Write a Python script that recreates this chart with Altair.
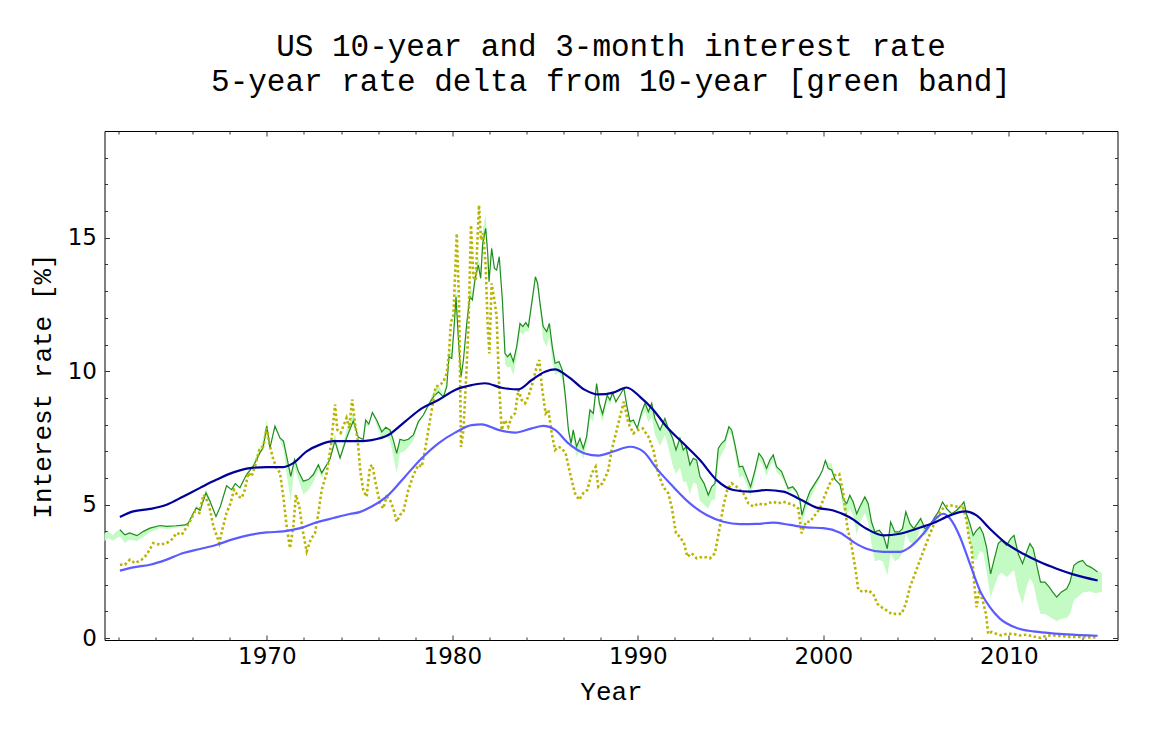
import altair as alt
import pandas as pd

# ---------------- data ----------------
# 10-year rate (green line) and 5-year minus 10-year delta (green band)
years10 = [
    1962.08, 1962.35, 1962.6, 1963.0, 1963.35, 1963.7, 1964.25, 1964.6, 1965.1, 1965.6,
    1965.77, 1966.04, 1966.2, 1966.4, 1966.72, 1966.94, 1967.26, 1967.5, 1967.83, 1968.1,
    1968.3, 1968.55, 1968.9, 1969.27, 1969.63, 1969.8, 1970.0, 1970.17, 1970.44, 1970.71,
    1970.9, 1971.07, 1971.29, 1971.5, 1971.7, 1971.97, 1972.24, 1972.5, 1972.78, 1972.96,
    1973.4, 1973.67, 1973.95, 1974.3, 1974.66, 1974.93, 1975.2, 1975.33, 1975.5, 1975.69,
    1975.92, 1976.2, 1976.41, 1976.64, 1976.82, 1977.0, 1977.18, 1977.4, 1977.63, 1977.9,
    1978.17, 1978.44, 1978.71, 1978.98, 1979.25, 1979.52, 1979.7, 1979.82, 1979.97, 1980.11,
    1980.2, 1980.33, 1980.47, 1980.6, 1980.78, 1980.95, 1981.08, 1981.22, 1981.4, 1981.53,
    1981.64, 1981.8, 1981.91, 1981.98, 1982.12, 1982.27, 1982.39, 1982.53, 1982.7, 1982.84,
    1982.98, 1983.13, 1983.29, 1983.47, 1983.65, 1983.8, 1983.96, 1984.1, 1984.28, 1984.48,
    1984.6, 1984.73, 1984.9, 1985.09, 1985.23, 1985.39, 1985.54, 1985.75, 1985.93, 1986.08,
    1986.26, 1986.4, 1986.52, 1986.7, 1986.88, 1987.06, 1987.24, 1987.42, 1987.6, 1987.78,
    1987.93, 1988.1, 1988.35, 1988.5, 1988.64, 1988.82, 1989.04, 1989.25, 1989.4, 1989.58,
    1989.76, 1989.97, 1990.21, 1990.39, 1990.57, 1990.75, 1990.92, 1991.2, 1991.46, 1991.64,
    1991.88, 1992.06, 1992.27, 1992.45, 1992.6, 1992.81, 1992.99, 1993.17, 1993.35, 1993.57,
    1993.8, 1993.98, 1994.16, 1994.34, 1994.52, 1994.7, 1994.91, 1995.06, 1995.24, 1995.47,
    1995.65, 1995.87, 1996.08, 1996.32, 1996.53, 1996.73, 1996.94, 1997.12, 1997.3, 1997.48,
    1997.75, 1997.93, 1998.11, 1998.35, 1998.56, 1998.74, 1998.85, 1999.01, 1999.28, 1999.55,
    1999.78, 1999.96, 2000.11, 2000.27, 2000.45, 2000.63, 2000.9, 2001.08, 2001.26, 2001.43,
    2001.61, 2001.8, 2001.97, 2002.24, 2002.42, 2002.6, 2002.78, 2003.02, 2003.23, 2003.45,
    2003.63, 2003.86, 2004.09, 2004.27, 2004.45, 2004.67, 2004.88, 2005.07, 2005.25, 2005.48,
    2005.75, 2005.96, 2006.2, 2006.43, 2006.65, 2006.92, 2007.19, 2007.45, 2007.58, 2007.72,
    2007.9, 2008.08, 2008.26, 2008.44, 2008.62, 2008.8, 2009.02, 2009.2, 2009.43, 2009.61,
    2009.88, 2010.1, 2010.28, 2010.51, 2010.74, 2010.96, 2011.14, 2011.32, 2011.53, 2011.71,
    2011.95, 2012.18, 2012.36, 2012.58, 2012.84, 2013.12, 2013.3, 2013.51, 2013.74, 2013.98,
    2014.19, 2014.41, 2014.55, 2014.79,
]
ten = [
    4.06, 3.87, 3.94, 3.84, 4.0, 4.12, 4.22, 4.19, 4.21, 4.24,
    4.31, 4.69, 4.88, 4.79, 5.44, 5.12, 4.56, 4.94, 5.71, 5.56,
    5.79, 5.63, 6.12, 6.44, 6.94, 7.13, 7.94, 7.13, 7.94, 7.5,
    7.38, 6.81, 6.06, 6.69, 6.25, 5.88, 5.94, 6.12, 6.5, 6.19,
    6.69, 7.38, 6.75, 7.5, 8.13, 7.52, 7.45, 8.17, 8.02, 8.45,
    8.17, 7.73, 7.9, 7.8, 7.42, 6.92, 7.45, 7.4, 7.45, 7.61,
    8.11, 8.36, 8.73, 9.04, 9.23, 9.04, 9.42, 10.54, 10.48, 11.79,
    12.79, 11.17, 9.8, 10.42, 11.79, 12.79, 12.67, 13.41, 13.98, 13.48,
    14.79, 15.35, 14.41, 13.35, 14.6, 13.85, 13.79, 14.29, 12.67, 10.67,
    10.54, 10.67, 10.36, 10.92, 11.79, 11.67, 11.82, 11.67, 12.54, 13.54,
    13.29, 12.54, 11.67, 11.48, 11.79, 10.92, 10.3, 10.36, 10.04, 9.17,
    7.8, 7.3, 7.8, 7.17, 7.48, 7.11, 7.55, 8.55, 8.42, 9.54,
    8.8, 8.4, 9.1, 8.92, 9.19, 8.86, 9.11, 9.36, 8.74, 8.11,
    8.17, 7.86, 8.48, 8.8, 8.48, 8.8, 8.23, 7.8, 8.23, 7.86,
    7.49, 7.05, 7.49, 7.05, 7.17, 6.49, 6.74, 6.67, 6.05, 5.8,
    5.36, 5.67, 5.8, 7.11, 7.3, 7.42, 7.92, 7.8, 7.24, 6.42,
    6.44, 6.05, 5.67, 6.3, 6.92, 6.74, 6.36, 6.67, 6.86, 6.42,
    6.24, 5.92, 5.61, 5.67, 5.49, 5.18, 4.61, 5.0, 5.5, 5.8,
    6.05, 6.3, 6.65, 6.35, 6.3, 5.95, 5.75, 5.2, 5.04, 5.35,
    5.1, 4.66, 4.92, 5.29, 5.04, 4.35, 3.98, 4.04, 3.85, 3.35,
    4.35, 3.98, 3.98, 4.1, 4.73, 4.29, 4.1, 4.29, 4.48, 4.1,
    4.23, 4.48, 4.73, 5.1, 4.85, 4.66, 4.79, 4.98, 5.1, 4.66,
    4.29, 3.85, 4.04, 4.16, 3.91, 3.41, 2.41, 2.91, 3.54, 3.66,
    3.48, 3.73, 3.85, 3.16, 2.79, 3.23, 3.54, 3.35, 2.66, 2.1,
    2.1, 1.91, 1.73, 1.54, 1.73, 1.85, 2.1, 2.73, 2.85, 2.91,
    2.73, 2.66, 2.6, 2.48,
]
delta5 = [
    -0.25, -0.3, -0.25, -0.2, -0.2, -0.15, -0.1, -0.1, -0.08, -0.05,
    -0.05, 0.05, 0.1, 0.05, 0.15, 0.1, -0.05, 0.0, 0.05, 0.0,
    0.05, 0.0, 0.05, 0.1, 0.2, 0.25, 0.25, 0.1, 0.1, -0.1,
    -0.3, -0.7, -0.9, -0.3, -0.3, -0.5, -0.4, -0.3, -0.2, -0.2,
    0.1, 0.3, 0.1, 0.3, 0.35, 0.1, -0.2, -0.2, -0.1, 0.0,
    -0.2, -0.3, -0.3, -0.4, -0.6, -0.75, -0.5, -0.4, -0.3, -0.2,
    -0.1, 0.0, 0.05, 0.2, 0.25, 0.1, 0.2, 0.3, 0.2, 0.4,
    0.4, 0.2, -0.2, 0.0, 0.3, 0.4, 0.3, 0.3, 0.3, 0.4,
    0.5, 0.5, 0.2, 0.1, 0.2, 0.0, 0.0, 0.0, -0.1, -0.4,
    -0.4, -0.5, -0.5, -0.4, -0.3, -0.3, -0.3, -0.2, -0.2, -0.15,
    -0.15, -0.3, -0.5, -0.55, -0.5, -0.5, -0.45, -0.4, -0.4, -0.3,
    -0.2, -0.25, -0.3, -0.4, -0.4, -0.4, -0.3, -0.3, -0.3, -0.2,
    -0.3, -0.3, -0.2, -0.2, -0.1, -0.1, 0.0, 0.0, -0.05, -0.1,
    -0.1, -0.05, -0.2, -0.3, -0.4, -0.5, -0.6, -0.6, -0.6, -0.7,
    -1.0, -0.9, -1.1, -1.2, -1.3, -1.1, -0.9, -0.9, -0.9, -0.8,
    -0.5, -0.5, -0.6, -0.5, -0.4, -0.3, -0.2, -0.2, -0.3, -0.4,
    -0.35, -0.3, -0.35, -0.3, -0.25, -0.25, -0.3, -0.25, -0.2, -0.2,
    -0.2, -0.15, -0.15, -0.1, -0.1, -0.25, -0.35, -0.3, -0.3, -0.2,
    -0.1, 0.0, 0.05, 0.2, 0.25, 0.1, -0.1, -0.4, -0.4, -0.5,
    -0.5, -0.8, -0.6, -0.6, -0.7, -0.8, -1.1, -1.1, -1.0, -1.0,
    -1.2, -1.1, -1.0, -0.9, -0.8, -0.7, -0.6, -0.5, -0.3, -0.3,
    -0.1, 0.0, -0.05, 0.0, -0.05, -0.1, -0.1, -0.1, -0.2, -0.3,
    -0.6, -0.9, -1.1, -0.9, -0.7, -0.9, -0.9, -1.0, -1.2, -1.2,
    -1.2, -1.3, -1.3, -1.4, -1.5, -1.3, -1.3, -1.3, -1.3, -1.2,
    -1.2, -1.1, -1.0, -0.9, -1.0, -1.1, -1.2, -1.3, -1.3, -1.2,
    -1.0, -0.9, -0.9, -0.8,
]
# band continues a little before and after the drawn 10-year line
lead_years = [1961.2, 1961.45, 1961.7, 1961.9]
lead_ten = [3.9, 4.0, 3.85, 4.0]
lead_delta = [-0.3, -0.25, -0.2, -0.25]
tail_years = [2014.9, 2015.02]
tail_ten = [2.5, 2.45]
tail_delta = [-0.75, -0.75]

# 3-month rate (yellow dotted)
years3 = [
    1962.08, 1962.35, 1962.62, 1962.89, 1963.25, 1963.52, 1963.88, 1964.24, 1964.6, 1964.87,
    1965.14, 1965.41, 1965.71, 1965.95, 1966.13, 1966.36, 1966.58, 1966.72, 1966.9, 1967.12,
    1967.44, 1967.62, 1967.83, 1968.05, 1968.23, 1968.46, 1968.64, 1968.82, 1969.0, 1969.18,
    1969.36, 1969.6, 1969.81, 1969.99, 1970.17, 1970.35, 1970.53, 1970.71, 1970.89, 1971.07,
    1971.25, 1971.43, 1971.57, 1971.75, 1971.93, 1972.15, 1972.36, 1972.6, 1972.78, 1972.96,
    1973.23, 1973.45, 1973.68, 1973.8, 1973.98, 1974.16, 1974.3, 1974.44, 1974.6, 1974.75,
    1974.9, 1975.05, 1975.2, 1975.38, 1975.56, 1975.69, 1975.87, 1976.1, 1976.28, 1976.46,
    1976.64, 1976.82, 1977.0, 1977.18, 1977.36, 1977.63, 1977.9, 1978.17, 1978.35, 1978.56,
    1978.74, 1978.92, 1979.1, 1979.34, 1979.52, 1979.7, 1979.82, 1979.93, 1980.06, 1980.24,
    1980.36, 1980.47, 1980.6, 1980.74, 1980.87, 1981.01, 1981.13, 1981.26, 1981.44, 1981.55,
    1981.67, 1981.8, 1981.91, 1982.0, 1982.12, 1982.27, 1982.39, 1982.52, 1982.66, 1982.84,
    1983.02, 1983.2, 1983.38, 1983.56, 1983.74, 1983.92, 1984.1, 1984.32, 1984.55, 1984.69,
    1984.85, 1985.03, 1985.18, 1985.36, 1985.54, 1985.72, 1985.9, 1986.11, 1986.35, 1986.61,
    1986.83, 1987.06, 1987.28, 1987.51, 1987.73, 1987.87, 1988.09, 1988.27, 1988.41, 1988.59,
    1988.82, 1989.04, 1989.25, 1989.49, 1989.76, 1990.03, 1990.26, 1990.57, 1990.84, 1991.1,
    1991.37, 1991.64, 1991.82, 1992.06, 1992.27, 1992.49, 1992.67, 1992.9, 1993.17, 1993.53,
    1993.89, 1994.16, 1994.39, 1994.61, 1994.82, 1995.06, 1995.33, 1995.69, 1995.96, 1996.23,
    1996.5, 1996.77, 1997.03, 1997.3, 1997.57, 1997.84, 1998.11, 1998.38, 1998.65, 1998.83,
    1999.07, 1999.28, 1999.55, 1999.82, 2000.09, 2000.36, 2000.63, 2000.86, 2001.08, 2001.29,
    2001.53, 2001.71, 2001.89, 2002.15, 2002.42, 2002.69, 2002.91, 2003.14, 2003.41, 2003.68,
    2003.95, 2004.22, 2004.45, 2004.67, 2004.94, 2005.21, 2005.48, 2005.75, 2006.02, 2006.29,
    2006.56, 2006.83, 2007.1, 2007.33, 2007.51, 2007.72, 2007.87, 2007.99, 2008.12, 2008.26,
    2008.41, 2008.59, 2008.77, 2008.89, 2009.07, 2009.34, 2009.61, 2009.88, 2010.24, 2010.6,
    2010.96, 2011.32, 2011.68, 2012.04, 2012.4, 2012.76, 2013.12, 2013.48, 2013.83, 2014.19,
    2014.55, 2014.79,
]
three = [
    2.75, 2.75, 2.94, 2.81, 2.94, 3.12, 3.56, 3.5, 3.56, 3.69,
    3.94, 3.87, 4.19, 4.5, 4.75, 4.69, 5.37, 5.25, 4.94, 4.19,
    3.56, 4.12, 4.69, 5.06, 5.56, 5.31, 5.25, 5.56, 6.19, 6.06,
    6.44, 7.06, 7.19, 7.87, 7.19, 6.69, 6.37, 6.19, 5.31, 4.19,
    3.37, 4.19, 5.37, 4.94, 4.06, 3.25, 3.69, 3.94, 4.69, 5.56,
    6.19, 7.19, 8.75, 7.81, 7.69, 8.0, 8.25, 7.87, 8.94, 8.06,
    7.4, 6.2, 5.55, 5.3, 6.42, 6.49, 5.8, 5.05, 4.86, 5.3,
    5.18, 4.86, 4.36, 4.61, 4.74, 5.55, 6.11, 6.49, 6.42, 7.17,
    7.92, 8.67, 9.42, 9.48, 9.61, 9.92, 10.67, 11.85, 12.1, 15.16,
    12.67, 7.17, 7.8, 9.67, 11.67, 15.47, 13.54, 13.41, 16.22, 14.91,
    15.16, 13.91, 11.67, 10.67, 13.29, 12.67, 12.04, 9.54, 7.8, 8.17,
    7.92, 8.3, 8.42, 9.3, 8.92, 8.8, 9.05, 9.54, 10.17, 10.42,
    9.3, 8.42, 8.55, 7.67, 7.05, 7.17, 7.11, 6.92, 6.17, 5.43,
    5.18, 5.43, 5.55, 6.17, 6.42, 5.67, 5.8, 6.05, 6.3, 7.05,
    7.67, 8.3, 8.86, 8.05, 7.67, 7.8, 7.86, 7.55, 7.05, 6.17,
    5.67, 5.43, 4.93, 3.93, 3.8, 3.55, 3.05, 3.18, 2.99, 3.05,
    2.99, 3.18, 4.05, 4.93, 5.55, 5.8, 5.67, 5.43, 5.05, 4.93,
    5.05, 4.99, 5.05, 5.11, 5.05, 5.11, 5.05, 4.99, 4.86, 3.93,
    4.36, 4.36, 4.61, 4.86, 5.36, 5.8, 6.11, 6.15, 5.42, 4.18,
    3.43, 2.68, 1.81, 1.73, 1.79, 1.66, 1.29, 1.16, 1.04, 0.91,
    0.91, 0.91, 1.29, 1.91, 2.41, 2.91, 3.41, 3.91, 4.35, 4.73,
    4.94, 4.98, 4.94, 4.91, 4.98, 4.41, 3.66, 3.41, 2.16, 1.16,
    1.79, 1.41, 0.91, 0.16, 0.23, 0.16, 0.1, 0.16, 0.16, 0.1,
    0.13, 0.06, 0.01, 0.09, 0.1, 0.08, 0.06, 0.04, 0.04, 0.03,
    0.03, 0.04,
]

# smooth trend of the 10-year rate (dark blue)
trend10_years = [
    1962.08, 1962.8, 1963.7, 1964.6, 1965.5, 1966.4, 1967.3, 1968.2, 1969.1, 1970.0,
    1970.9, 1971.43, 1972.15, 1972.87, 1973.59, 1974.3, 1975.0, 1975.65, 1976.55, 1977.45,
    1978.35, 1979.25, 1980.15, 1981.04, 1981.76, 1982.66, 1983.56, 1984.28, 1985.0, 1985.54,
    1986.26, 1987.15, 1987.87, 1988.68, 1989.4, 1990.12, 1990.84, 1991.55, 1992.45, 1993.35,
    1994.25, 1995.15, 1996.05, 1996.94, 1997.84, 1998.74, 1999.64, 2000.54, 2001.44, 2002.33,
    2003.23, 2004.13, 2005.03, 2005.93, 2006.83, 2007.63, 2008.26, 2008.98, 2009.88, 2010.78,
    2011.68, 2012.58, 2013.47, 2014.79,
]
trend10 = [
    4.54, 4.75, 4.84, 5.0, 5.31, 5.63, 5.94, 6.21, 6.37, 6.41,
    6.41, 6.56, 7.0, 7.25, 7.38, 7.38, 7.38, 7.42, 7.61, 8.11,
    8.61, 8.92, 9.3, 9.48, 9.55, 9.38, 9.32, 9.67, 9.98, 10.07,
    9.79, 9.3, 9.13, 9.2, 9.39, 9.04, 8.55, 7.92, 7.3, 6.67,
    5.92, 5.55, 5.49, 5.55, 5.49, 5.2, 4.89, 4.78, 4.52, 4.1,
    3.85, 3.91, 4.1, 4.31, 4.6, 4.75, 4.6, 4.1, 3.54, 3.16,
    2.85, 2.6, 2.39, 2.16,
]
# smooth trend of the 3-month rate (light blue)
trend3_years = [
    1962.08, 1962.8, 1963.7, 1964.6, 1965.5, 1966.4, 1967.3, 1968.2, 1969.1, 1970.0,
    1970.9, 1971.8, 1972.7, 1973.59, 1974.48, 1975.0, 1975.65, 1976.55, 1977.45, 1978.35,
    1979.25, 1980.15, 1981.04, 1981.58, 1982.48, 1983.38, 1984.28, 1984.91, 1985.54, 1986.26,
    1987.15, 1987.87, 1988.68, 1989.58, 1990.3, 1991.01, 1991.91, 1992.81, 1993.71, 1994.61,
    1995.51, 1996.41, 1997.3, 1998.2, 1999.1, 2000.0, 2000.9, 2001.7, 2002.33, 2003.23,
    2004.13, 2004.67, 2005.39, 2005.93, 2006.47, 2006.83, 2007.37, 2007.9, 2008.44, 2008.98,
    2009.52, 2010.42, 2011.32, 2012.22, 2013.12, 2014.79,
]
trend3 = [
    2.53, 2.65, 2.75, 2.94, 3.19, 3.34, 3.5, 3.71, 3.87, 3.96,
    4.0, 4.12, 4.34, 4.5, 4.65, 4.72, 4.93, 5.36, 6.05, 6.74,
    7.3, 7.7, 7.98, 8.01, 7.8, 7.7, 7.86, 7.95, 7.8, 7.3,
    6.92, 6.84, 6.99, 7.17, 6.99, 6.36, 5.67, 5.05, 4.61, 4.36,
    4.27, 4.28, 4.33, 4.24, 4.15, 4.12, 3.95, 3.57, 3.35, 3.23,
    3.23, 3.41, 3.91, 4.39, 4.66, 4.48, 3.79, 2.79, 1.79, 1.16,
    0.73, 0.38, 0.25, 0.19, 0.14, 0.09,
]

# tick marks / labels
x_major = [1970, 1980, 1990, 2000, 2010]
x_minor = [1962, 1964, 1966, 1968, 1972, 1974, 1976, 1978, 1982, 1984, 1986, 1988,
           1992, 1994, 1996, 1998, 2002, 2004, 2006, 2008, 2012, 2014]
y_major = [0, 5, 10, 15]
y_minor = [1, 2, 3, 4, 6, 7, 8, 9, 11, 12, 13, 14, 16, 17, 18]

assert len(years10) == len(ten) == len(delta5)
assert len(years3) == len(three)
assert len(trend10_years) == len(trend10)
assert len(trend3_years) == len(trend3)

# ---------------- tables ----------------
df10 = pd.DataFrame({"year": years10, "ten": ten, "delta": delta5})
dfband = pd.DataFrame({
    "year": lead_years + years10 + tail_years,
    "ten": lead_ten + ten + tail_ten,
    "delta": lead_delta + delta5 + tail_delta,
})
df3 = pd.DataFrame({"year": years3, "three": three})
dft10 = pd.DataFrame({"year": trend10_years, "v": trend10})
dft3 = pd.DataFrame({"year": trend3_years, "v": trend3})

FONT = "Liberation Mono"
LABFONT = "DejaVu Sans"
xs = alt.Scale(domain=[1961.25, 2015.86], nice=False, zero=False)
ys = alt.Scale(domain=[-0.07, 19.0], nice=False, zero=False)
TICK = "#333333"


def tick_axis(orient, values, size):
    return alt.Axis(orient=orient, values=values, tickSize=size, offset=-size,
                    labels=False, domain=False, grid=False, ticks=True,
                    tickColor=TICK, tickWidth=1, title=None)


x_lab = alt.Axis(orient="bottom", values=x_major, format="d", ticks=False, tickSize=0,
                 domain=False, grid=False, labelFont=LABFONT, labelFontSize=23,
                 labelColor="black", labelPadding=5, labelFlush=False,
                 title="Year", titleFont=FONT, titleFontSize=26,
                 titleFontWeight="normal", titleColor="black", titlePadding=10)
y_lab = alt.Axis(orient="left", values=y_major, format="d", ticks=False, tickSize=0,
                 domain=False, grid=False, labelFont=LABFONT, labelFontSize=23,
                 labelColor="black", labelPadding=8,
                 title="Interest rate [%]", titleFont=FONT, titleFontSize=26,
                 titleFontWeight="normal", titleColor="black", titlePadding=12)

band = alt.Chart(dfband).transform_calculate(
    five="datum.ten + datum.delta"
).mark_area(color="#c4fac4", clip=True).encode(
    x=alt.X("year:Q", scale=xs, axis=x_lab),
    y=alt.Y("ten:Q", scale=ys, axis=y_lab),
    y2="five:Q",
)

green = alt.Chart(df10).mark_line(color="#1e8c1e", strokeWidth=1.2, clip=True).encode(
    x=alt.X("year:Q", scale=xs, axis=tick_axis("bottom", x_major, 5)),
    y=alt.Y("ten:Q", scale=ys, axis=tick_axis("left", y_major, 5)),
)

yellow = alt.Chart(df3).mark_line(color="#b8b400", strokeWidth=2.6,
                                  strokeDash=[2.5, 2.5], clip=True).encode(
    x=alt.X("year:Q", scale=xs, axis=tick_axis("bottom", x_minor, 3)),
    y=alt.Y("three:Q", scale=ys, axis=tick_axis("left", y_minor, 3)),
)

light = alt.Chart(dft3).mark_line(color="#5b5bff", strokeWidth=2.2,
                                  interpolate="monotone", clip=True).encode(
    x=alt.X("year:Q", scale=xs, axis=tick_axis("top", x_major, 5)),
    y=alt.Y("v:Q", scale=ys, axis=tick_axis("right", y_major, 5)),
)

dark = alt.Chart(dft10).mark_line(color="#00009a", strokeWidth=2.2,
                                  interpolate="monotone", clip=True).encode(
    x=alt.X("year:Q", scale=xs, axis=tick_axis("top", x_minor, 3)),
    y=alt.Y("v:Q", scale=ys, axis=tick_axis("right", y_minor, 3)),
)

chart = alt.layer(band, green, yellow, light, dark).resolve_axis(
    x="independent", y="independent"
).properties(
    width=1013,
    height=509,
    padding={"left": 96.5, "top": 123, "right": 20, "bottom": 70},
    autosize=alt.AutoSizeParams(type="none"),
    title=alt.TitleParams(
        text=["US 10-year and 3-month interest rate",
              "5-year rate delta from 10-year [green band]"],
        font=FONT, fontSize=31, fontWeight="normal", color="black",
        anchor="middle", offset=33, lineHeight=35,
    ),
).configure_view(stroke="black", strokeWidth=1)

chart.save("out.html", embed_options={"renderer": "svg", "actions": False})
